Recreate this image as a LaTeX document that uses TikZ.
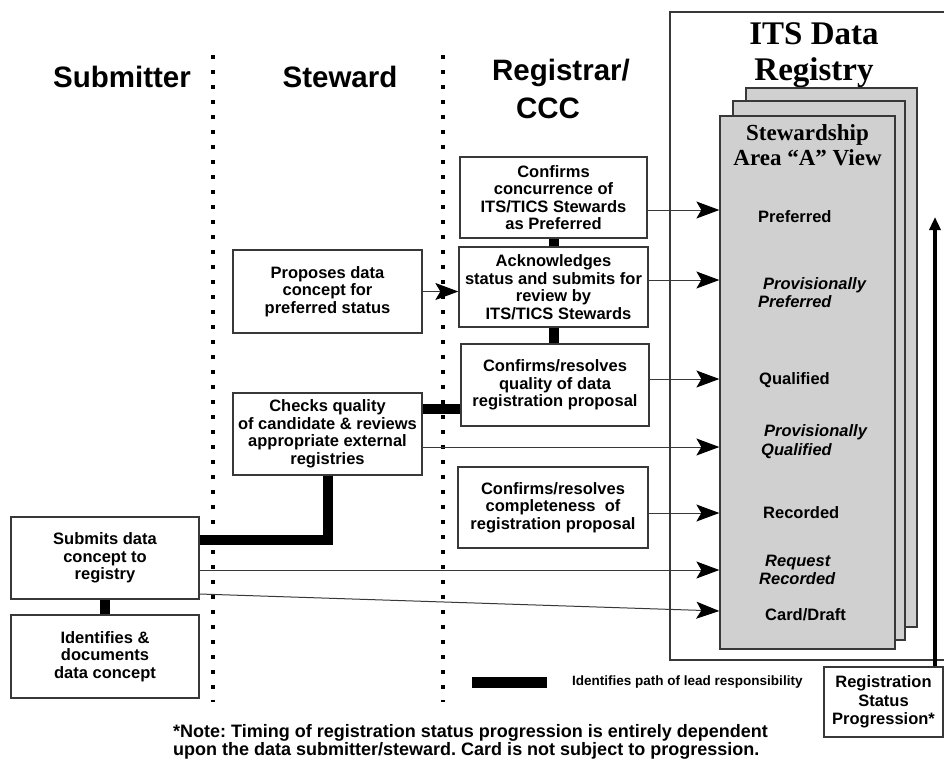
\documentclass[tikz,border=0pt]{standalone}
\usepackage{fontspec}
\setmainfont{Liberation Sans}
\newfontfamily\titlefont{Liberation Serif}
\usetikzlibrary{arrows.meta,calc}
\frenchspacing

\definecolor{edgegray}{RGB}{56,56,56}
\definecolor{pagegray}{RGB}{208,208,208}

\begin{document}
\begin{tikzpicture}[x=1pt,y=-1pt,
  box/.style={draw=edgegray, line width=1.3pt, rectangle, inner sep=0pt, fill=white,
    align=center, font=\bfseries\fontsize{16.5}{17.5}\selectfont},
  hdr/.style={font=\bfseries\fontsize{29.5}{34}\selectfont, inner sep=0pt},
  pagebox/.style={draw=edgegray, line width=1.3pt, fill=pagegray, rectangle, inner sep=0pt},
  status/.style={anchor=west, align=left, inner sep=0pt,
    font=\bfseries\fontsize{16.5}{18.5}\selectfont},
  provstatus/.style={status, font=\bfseries\itshape\fontsize{16.5}{18.5}\selectfont},
  flow/.style={draw=edgegray, line width=1pt,
    -{Stealth[length=23pt,width=17pt,inset=5pt,black]}},
  lead/.style={draw=black, line width=10pt, line join=miter},
  dotline/.style={draw=black, line width=3.5pt, dash pattern=on 3.5pt off 11.5pt},
  progress/.style={draw=black, line width=4pt, -{Triangle[length=13pt,width=11pt]}}
]
\useasboundingbox (0,0) rectangle (944,758);

% lane headers
\node[hdr] (hsub) at (122,77) {Submitter};
\node[hdr] (hstew) at (340,77) {Steward};
\node[hdr] (hreg) at (561,73) {Registrar/};
\node[hdr] (hccc) at (548,108) {CCC};

% lane separators
\draw[dotline] (213,55) -- (213,702);
\draw[dotline] (443,55) -- (443,702);

% registry frame and its stacked views
\draw[edgegray, line width=1.3pt] (946,12) -- (670,12) -- (670,660) -- (946,660);
\node[font=\titlefont\bfseries\fontsize{33}{36}\selectfont, align=center, inner sep=0pt]
  (regtitle) at (814,55) {ITS Data\\Registry};
\node[pagebox, minimum width=171, minimum height=539] (back) at (831.5,357.5) {};
\node[pagebox, minimum width=172, minimum height=539] (middle) at (819,370.5) {};
\node[pagebox, minimum width=175, minimum height=533] (front) at (807.5,382.5) {};
\node[font=\titlefont\bfseries\fontsize{23}{25}\selectfont, align=center, inner sep=0pt]
  (viewtitle) at (807.5,145) {Stewardship\\Area “A” View};

% registration statuses
\node[status] (spref) at (758,217) {Preferred};
\node[provstatus] (sprovpref) at (758,292.5) {\hspace*{5pt}Provisionally\\Preferred};
\node[status] (squal) at (759,380) {Qualified};
\node[provstatus] (sprovqual) at (761,441.5) {\hspace*{3pt}Provisionally\\Qualified};
\node[status] (srec) at (763,513) {Recorded};
\node[provstatus] (sreq) at (759,570) {\hspace*{6pt}Request\\Recorded};
\node[status] (scard) at (765,615) {Card/Draft};

% activity boxes
\node[box, minimum width=187, minimum height=81] (concur) at (553.5,197.5)
  {Confirms\\concurrence of\\ITS/TICS Stewards\\as Preferred};
\node[box, minimum width=189, minimum height=80] (ack) at (553.5,287)
  {Acknowledges\\status and submits for\\review by\\\hspace*{10pt}ITS/TICS Stewards};
\node[box, minimum width=188, minimum height=82] (quality) at (555,385)
  {Confirms/resolves\\quality of data\\registration proposal};
\node[box, minimum width=189, minimum height=83] (proposes) at (327.5,291.5)
  {Proposes data\\concept for\\preferred status};
\node[box, minimum width=189, minimum height=82] (checks) at (327.5,434)
  {Checks quality\\of candidate \& reviews\\appropriate external\\registries};
\node[box, minimum width=190, minimum height=81] (complete) at (553,507.5)
  {Confirms/resolves\\completeness\ \ of\\registration proposal};
\node[box, minimum width=188, minimum height=82] (submits) at (105,558)
  {Submits data\\concept to\\registry};
\node[box, minimum width=188, minimum height=83] (identifies) at (105,656.5)
  {Identifies \&\\documents\\data concept};

% lead responsibility path
\draw[lead] (concur.south) -- (ack.north);
\draw[lead] (ack.south) -- (ack.south |- quality.north);
\coordinate (chkout) at ($(checks.east)+(0,-25)$);
\draw[lead] (chkout) -- (chkout -| quality.west);
\coordinate (subin) at ($(submits.east)+(0,-18)$);
\draw[lead] (checks.south) |- (subin);
\draw[lead] (submits.south) -- (identifies.north);

% status assignments
\coordinate (a1) at ($(concur.east)+(0,12.5)$);
\draw[flow] (a1) -- (a1 -| front.west);
\coordinate (a2) at ($(ack.east)+(0,-7)$);
\draw[flow] (a2) -- (a2 -| front.west);
\coordinate (a3) at ($(quality.east)+(0,-6)$);
\draw[flow] (a3) -- (a3 -| front.west);
\coordinate (a4) at ($(checks.east)+(0,13)$);
\draw[flow] (a4) -- (a4 -| front.west);
\coordinate (a5) at ($(complete.east)+(0,5.5)$);
\draw[flow] (a5) -- (a5 -| front.west);
\coordinate (a6) at ($(submits.east)+(0,12)$);
\draw[flow] (a6) -- (a6 -| front.west);
\coordinate (a7) at ($(submits.east)+(0,36)$);
\coordinate (a7end) at (front.west |- scard.west);
\draw[flow] (a7) -- ($(a7end)+(0,-4)$);
\draw[flow] (proposes.east) -- (proposes.east -| ack.west);

% status progression
\node[box, minimum width=119, minimum height=70, font=\bfseries\fontsize{16.5}{18.5}\selectfont]
  (regstat) at (883.5,702) {Registration\\Status\\Progression*};
\coordinate (progtop) at (935,217);
\draw[progress] (regstat.north -| progtop) -- (progtop);

% legend
\node[fill=black, minimum width=75, minimum height=11, inner sep=0pt] (legbar) at (509.5,682.5) {};
\node[font=\bfseries\fontsize{13.5}{15}\selectfont, anchor=west, inner sep=0pt] (legtext) at (572,682)
  {Identifies path of lead responsibility};

% footnote
\node[font=\bfseries\fontsize{18}{16.5}\selectfont, anchor=north west, align=left, inner sep=0pt]
  (note) at (173,724)
  {*Note: Timing of registration status progression is entirely dependent\\
   upon the data submitter/steward. Card is not subject to progression.};
\end{tikzpicture}
\end{document}
